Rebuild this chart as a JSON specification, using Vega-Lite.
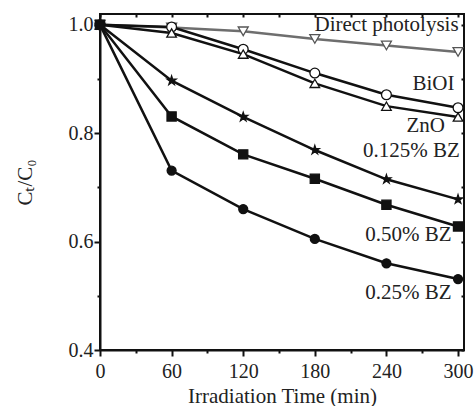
{
  "$schema": "https://vega.github.io/schema/vega-lite/v6.json",
  "width": 364,
  "height": 336,
  "autosize": "none",
  "padding": {"left": 100, "top": 14, "right": 10, "bottom": 56},
  "background": "white",
  "config": {
    "view": {"stroke": "#111", "strokeWidth": 2},
    "font": "Liberation Serif",
    "axis": {
      "grid": false,
      "domainColor": "#111",
      "domainWidth": 2,
      "tickColor": "#111",
      "tickWidth": 2,
      "labelFont": "Liberation Serif",
      "labelFontSize": 20,
      "labelColor": "#222",
      "titleFont": "Liberation Serif",
      "titleFontSize": 21,
      "titleFontWeight": "normal",
      "titleColor": "#222"
    }
  },
  "datasets": {
    "series": [
      {"s": "Direct photolysis", "t": 0, "c": 1.0},
      {"s": "Direct photolysis", "t": 60, "c": 0.995},
      {"s": "Direct photolysis", "t": 120, "c": 0.988},
      {"s": "Direct photolysis", "t": 180, "c": 0.974},
      {"s": "Direct photolysis", "t": 240, "c": 0.962},
      {"s": "Direct photolysis", "t": 300, "c": 0.950},
      {"s": "BiOI", "t": 0, "c": 1.0},
      {"s": "BiOI", "t": 60, "c": 0.996},
      {"s": "BiOI", "t": 120, "c": 0.955},
      {"s": "BiOI", "t": 180, "c": 0.911},
      {"s": "BiOI", "t": 240, "c": 0.871},
      {"s": "BiOI", "t": 300, "c": 0.847},
      {"s": "ZnO", "t": 0, "c": 1.0},
      {"s": "ZnO", "t": 60, "c": 0.985},
      {"s": "ZnO", "t": 120, "c": 0.946},
      {"s": "ZnO", "t": 180, "c": 0.892},
      {"s": "ZnO", "t": 240, "c": 0.850},
      {"s": "ZnO", "t": 300, "c": 0.830},
      {"s": "0.125% BZ", "t": 0, "c": 1.0},
      {"s": "0.125% BZ", "t": 60, "c": 0.897},
      {"s": "0.125% BZ", "t": 120, "c": 0.830},
      {"s": "0.125% BZ", "t": 180, "c": 0.769},
      {"s": "0.125% BZ", "t": 240, "c": 0.715},
      {"s": "0.125% BZ", "t": 300, "c": 0.678},
      {"s": "0.50% BZ", "t": 0, "c": 1.0},
      {"s": "0.50% BZ", "t": 60, "c": 0.831},
      {"s": "0.50% BZ", "t": 120, "c": 0.761},
      {"s": "0.50% BZ", "t": 180, "c": 0.716},
      {"s": "0.50% BZ", "t": 240, "c": 0.668},
      {"s": "0.50% BZ", "t": 300, "c": 0.628},
      {"s": "0.25% BZ", "t": 0, "c": 1.0},
      {"s": "0.25% BZ", "t": 60, "c": 0.731},
      {"s": "0.25% BZ", "t": 120, "c": 0.660},
      {"s": "0.25% BZ", "t": 180, "c": 0.605},
      {"s": "0.25% BZ", "t": 240, "c": 0.560},
      {"s": "0.25% BZ", "t": 300, "c": 0.531}
    ],
    "labels": [
      {"label": "Direct photolysis", "tx": 300.5, "ty": 0.989},
      {"label": "BiOI", "tx": 297, "ty": 0.880},
      {"label": "ZnO", "tx": 289, "ty": 0.802},
      {"label": "0.125% BZ", "tx": 301.5, "ty": 0.756},
      {"label": "0.50% BZ", "tx": 294.5, "ty": 0.602},
      {"label": "0.25% BZ", "tx": 294.5, "ty": 0.494}
    ]
  },
  "resolve": {"axis": {"x": "independent", "y": "independent"}},
  "layer": [
    {
      "data": {"name": "series"},
      "mark": {"type": "line", "strokeWidth": 2.5},
      "encoding": {
        "x": {
          "field": "t", "type": "quantitative",
          "scale": {"domain": [0, 305], "nice": false, "zero": false},
          "axis": {
            "title": "Irradiation Time (min)",
            "values": [0, 30, 60, 90, 120, 150, 180, 210, 240, 270, 300],
            "labelExpr": "datum.value % 60 === 0 ? datum.label : ''",
            "tickSize": {"condition": {"test": "datum.value % 60 === 0", "value": 6}, "value": 3},
            "labelPadding": 5,
            "labelFlush": false,
            "titleY": 52,
            "titleBaseline": "alphabetic"
          }
        },
        "y": {
          "field": "c", "type": "quantitative",
          "scale": {"domain": [0.4, 1.02], "nice": false, "zero": false},
          "axis": {
            "title": "Cₜ/C₀",
            "values": [0.4, 0.5, 0.6, 0.7, 0.8, 0.9, 1.0],
            "format": ".1f",
            "labelExpr": "round(datum.value * 10) % 2 === 0 ? datum.label : ''",
            "tickSize": {"condition": {"test": "round(datum.value * 10) % 2 === 0", "value": 6}, "value": 3},
            "labelPadding": 1,
            "labelFlush": false,
            "titleX": -75,
            "titleY": 168,
            "titleAngle": -90,
            "titleAlign": "center",
            "titleBaseline": "middle"
          }
        },
        "color": {
          "field": "s", "type": "nominal", "legend": null,
          "scale": {
            "domain": ["Direct photolysis", "BiOI", "ZnO", "0.125% BZ", "0.50% BZ", "0.25% BZ"],
            "range": ["#6e6e6e", "#111111", "#111111", "#111111", "#111111", "#111111"]
          }
        }
      }
    },
    {
      "data": {"name": "series"},
      "mark": {"type": "point", "filled": false, "strokeWidth": 1.3, "opacity": 1},
      "encoding": {
        "x": {
          "field": "t", "type": "quantitative",
          "scale": {"domain": [0, 305], "nice": false, "zero": false},
          "axis": {
            "orient": "top", "title": null, "labels": false, "domain": false,
            "values": [0, 30, 60, 90, 120, 150, 180, 210, 240, 270, 300],
            "tickSize": -3
          }
        },
        "y": {
          "field": "c", "type": "quantitative",
          "scale": {"domain": [0.4, 1.02], "nice": false, "zero": false},
          "axis": {
            "orient": "right", "title": null, "labels": false, "domain": false,
            "values": [0.4, 0.5, 0.6, 0.7, 0.8, 0.9, 1.0],
            "tickSize": -3
          }
        },
        "shape": {
          "field": "s", "type": "nominal", "legend": null,
          "scale": {
            "domain": ["Direct photolysis", "BiOI", "ZnO", "0.125% BZ", "0.50% BZ", "0.25% BZ"],
            "range": ["triangle-down", "circle", "triangle-up", "M0,-1L0.2245,-0.309L0.9511,-0.309L0.3633,0.118L0.5878,0.809L0,0.382L-0.5878,0.809L-0.3633,0.118L-0.9511,-0.309L-0.2245,-0.309Z", "square", "circle"]
          }
        },
        "fill": {
          "field": "s", "type": "nominal", "legend": null,
          "scale": {
            "domain": ["Direct photolysis", "BiOI", "ZnO", "0.125% BZ", "0.50% BZ", "0.25% BZ"],
            "range": ["#ffffff", "#ffffff", "#ffffff", "#111111", "#111111", "#111111"]
          }
        },
        "stroke": {
          "field": "s", "type": "nominal", "legend": null,
          "scale": {
            "domain": ["Direct photolysis", "BiOI", "ZnO", "0.125% BZ", "0.50% BZ", "0.25% BZ"],
            "range": ["#555555", "#111111", "#111111", "#111111", "#111111", "#111111"]
          }
        },
        "size": {
          "field": "s", "type": "nominal", "legend": null,
          "scale": {
            "domain": ["Direct photolysis", "BiOI", "ZnO", "0.125% BZ", "0.50% BZ", "0.25% BZ"],
            "range": [100, 80, 100, 150, 85, 75]
          }
        }
      }
    },
    {
      "data": {"name": "labels"},
      "mark": {"type": "text", "align": "right", "baseline": "alphabetic", "fontSize": 21, "font": "Liberation Serif", "color": "#222"},
      "encoding": {
        "x": {"field": "tx", "type": "quantitative", "scale": {"domain": [0, 305], "nice": false, "zero": false}, "axis": null},
        "y": {"field": "ty", "type": "quantitative", "scale": {"domain": [0.4, 1.02], "nice": false, "zero": false}, "axis": null},
        "text": {"field": "label"}
      }
    }
  ]
}
